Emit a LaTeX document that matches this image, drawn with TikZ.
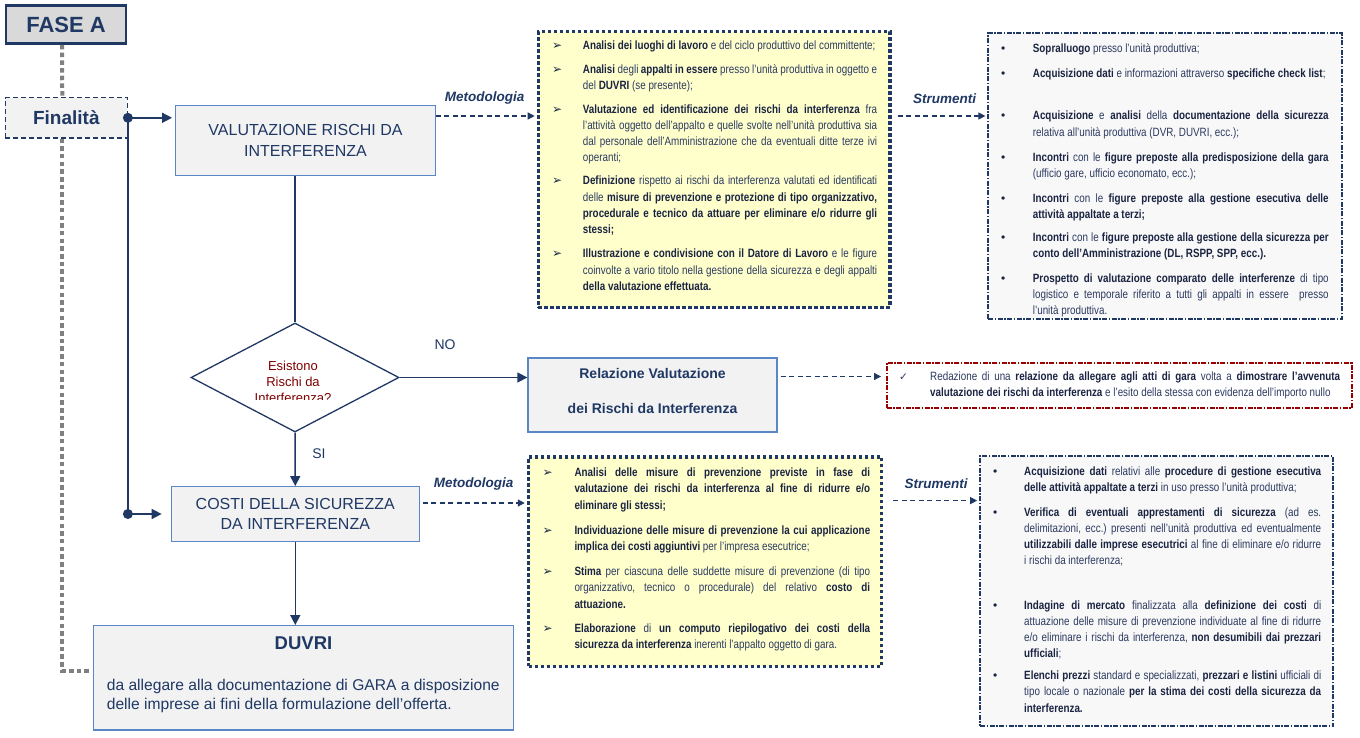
\documentclass[tikz,border=0pt]{standalone}
\usepackage{fontspec}
\setmainfont{Liberation Sans}
\newfontfamily\narrow{Liberation Sans}[FakeStretch=0.82]
\newfontfamily\dejavu{DejaVu Sans}
\usetikzlibrary{shapes.geometric,arrows.meta}
\definecolor{navy}{RGB}{31,56,100}
\definecolor{boxblue}{RGB}{91,134,197}
\definecolor{boxfill}{RGB}{242,242,242}
\definecolor{fasefill}{RGB}{217,217,217}
\definecolor{yel}{RGB}{255,255,204}
\definecolor{gfill}{RGB}{248,248,248}
\definecolor{txt}{RGB}{44,58,96}
\definecolor{txtb}{RGB}{26,36,66}
\definecolor{dred}{RGB}{128,0,0}
\definecolor{rborder}{RGB}{155,0,0}
\definecolor{dotgray}{RGB}{128,128,128}
\hyphenpenalty=10000 \exhyphenpenalty=10000 \tolerance=4000 \emergencystretch=6pt \frenchspacing
\newcommand{\B}[1]{\textbf{\color{txtb}#1}}
\newcommand{\itm}[3]{\hangindent=#2pt\hangafter=1 \makebox[#2pt][l]{#1}#3\par}
\newcommand{\arrb}{{\dejavu\fontsize{12}{12}\selectfont\color{txtb}➢}}
\newcommand{\dotb}{{\rmfamily\fontsize{12}{12}\selectfont\color{txtb}•}}
\newcommand{\chk}{{\dejavu\fontsize{10.5}{10}\selectfont\color{txt}✓}}
\tikzset{
  bbox/.style={draw=boxblue, fill=boxfill, line width=1.3pt, text=navy, align=center, inner sep=0pt},
  yelbox/.style={draw=navy, fill=yel, line width=3.5pt, dash pattern=on 3.5pt off 2.5pt, inner sep=0pt},
  gbox/.style={draw=navy, fill=gfill, line width=1.8pt, dash pattern=on 5pt off 1.5pt on 1.5pt off 1.5pt, inner sep=0pt},
  lst/.style={anchor=base west, inner sep=0pt, align=justify, text=txt, font=\narrow\fontsize{12}{16.2}\selectfont},
  conn/.style={draw=navy, line width=1.5pt, -{Triangle[length=10pt,width=10pt]}},
  plain/.style={draw=navy, line width=1.5pt},
  dconn/.style={draw=navy, line width=1.2pt, dash pattern=on 5pt off 3.5pt, -{Triangle[length=7pt,width=7pt]}},
  grayline/.style={draw=dotgray, line width=4pt, dash pattern=on 4.5pt off 3.2pt},
  tag/.style={font=\bfseries\itshape\fontsize{13.5}{16}\selectfont, text=navy, inner sep=0pt},
}
\begin{document}
\begin{tikzpicture}[x=1pt,y=-1pt]
\useasboundingbox (0,0) rectangle (1360,738);
\fill[white] (0,0) rectangle (1360,738);

% left column
\node[draw=navy, fill=fasefill, line width=2.5pt, minimum width=120, minimum height=38, inner sep=0pt,
      text=navy, font=\bfseries\fontsize{22}{24}\selectfont] (fase) at (66,24.7) {FASE A};
\node[draw=navy, fill=boxfill, line width=1.2pt, dash pattern=on 5pt off 3pt, minimum width=122, minimum height=40.3,
      inner sep=0pt, text=navy, font=\bfseries\fontsize{19}{22}\selectfont] (fin) at (66.3,117.8) {Finalità};

\node[bbox, minimum width=259.6, minimum height=69.6, font=\fontsize{16}{20.7}\selectfont] (val) at (305.5,140.5)
  {VALUTAZIONE RISCHI DA\\INTERFERENZA};
\node[draw=navy, line width=1.3pt, diamond, minimum width=208, minimum height=109, inner sep=0pt, fill=white] (dia) at (295,377.5) {};
\begin{scope}
  \clip (150,300) rectangle (450,399);
  \node[font=\fontsize{13}{16}\selectfont, text=dred, align=center, inner sep=0pt] (diatext) at (293,382) {Esistono\\Rischi da\\Interferenza?};
\end{scope}
\node[bbox, minimum width=249, minimum height=74, font=\bfseries\fontsize{14}{35}\selectfont] (rel) at (652.5,395)
  {Relazione Valutazione\\dei Rischi da Interferenza\rule[-8.4pt]{0pt}{8.4pt}};
\node[bbox, minimum width=248, minimum height=54.6, font=\fontsize{16}{20.6}\selectfont] (costi) at (295.3,514)
  {COSTI DELLA SICUREZZA\\DA INTERFERENZA};
\node[bbox, minimum width=419.6, minimum height=104.3] (duvri) at (303.5,677.8) {};
\node[text=navy, font=\bfseries\fontsize{18.5}{22}\selectfont, inner sep=0pt] (duvrit) at (303.5,643) {DUVRI};
\node[anchor=base west, text=navy, align=left, inner sep=0pt, font=\fontsize{15.6}{19.3}\selectfont] (duvrib) at (106.7,709.6)
  {da allegare alla documentazione di GARA a disposizione\\delle imprese ai fini della formulazione dell’offerta.};

\node[text=navy, font=\fontsize{14}{16}\selectfont, inner sep=0pt] (no) at (445,345) {NO};
\node[text=navy, font=\fontsize{14}{16}\selectfont, inner sep=0pt] (si) at (319,454) {SI};

% boxes right
\node[yelbox, minimum width=351.5, minimum height=275.6] (y1) at (714.2,169.5) {};
\node[gbox, minimum width=353.4, minimum height=285.7] (g1) at (1165,176.2) {};
\node[yelbox, minimum width=353, minimum height=209.7] (y2) at (705,561.6) {};
\node[gbox, minimum width=353.3, minimum height=269.7] (g2) at (1156.7,590.9) {};
\node[gbox, draw=rborder, fill=white, minimum width=464.7, minimum height=45.6] (red) at (1119.3,385.5) {};

\node[tag] (m1) at (484.5,98.3) {Metodologia};
\node[tag] (s1) at (944.5,98.3) {Strumenti};
\node[tag] (m2) at (473.5,484) {Metodologia};
\node[tag] (s2) at (936,484) {Strumenti};

% yellow 1 items
\node[lst, text width=325pt] (a1) at (552,49.7) {\itm{\arrb}{30.7}{\B{Analisi dei luoghi di lavoro} e del ciclo produttivo del committente;}};
\node[lst, text width=325pt] (a2) at (552,73.3) {\itm{\arrb}{30.7}{\B{Analisi} degli \B{appalti in essere} presso l’unità produttiva in oggetto e del \B{DUVRI} (se presente);}};
\node[lst, text width=325pt] (a3) at (552,113.3) {\itm{\arrb}{30.7}{\B{Valutazione ed identificazione dei rischi da interferenza} fra l’attività oggetto dell’appalto e quelle svolte nell’unità produttiva sia dal personale dell’Amministrazione che da eventuali ditte terze ivi operanti;}};
\node[lst, text width=325pt] (a4) at (552,185) {\itm{\arrb}{30.7}{\B{Definizione} rispetto ai rischi da interferenza valutati ed identificati delle \B{misure di prevenzione e protezione di tipo organizzativo, procedurale e tecnico da attuare per eliminare e/o ridurre gli stessi;}}};
\node[lst, text width=325pt] (a5) at (552,258) {\itm{\arrb}{30.7}{\B{Illustrazione e condivisione con il Datore di Lavoro} e le figure coinvolte a vario titolo nella gestione della sicurezza e degli appalti \B{della valutazione effettuata.}}};

% gray 1 items
\node[lst, text width=327.5pt] (b1) at (1001,52.3) {\itm{\dotb}{31.7}{\B{Sopralluogo} presso l’unità produttiva;}};
\node[lst, text width=327.5pt] (b2) at (1001,77.3) {\itm{\dotb}{31.7}{\B{Acquisizione dati} e informazioni attraverso \B{specifiche check list};}};
\node[lst, text width=327.5pt] (b3) at (1001,120) {\itm{\dotb}{31.7}{\B{Acquisizione} e \B{analisi} della \B{documentazione della sicurezza} relativa all’unità produttiva (DVR, DUVRI, ecc.);}};
\node[lst, text width=327.5pt] (b4) at (1001,161.7) {\itm{\dotb}{31.7}{\B{Incontri} con le \B{figure preposte alla predisposizione della gara} (ufficio gare, ufficio economato, ecc.);}};
\node[lst, text width=327.5pt] (b5) at (1001,202.3) {\itm{\dotb}{31.7}{\B{Incontri} con le \B{figure preposte alla gestione esecutiva delle attività appaltate a terzi;}}};
\node[lst, text width=327.5pt] (b6) at (1001,241.7) {\itm{\dotb}{31.7}{\B{Incontri} con le \B{figure preposte alla gestione della sicurezza per conto dell’Amministrazione (DL, RSPP, SPP, ecc.).}}};
\node[lst, text width=327.5pt] (b7) at (1001,282.3) {\itm{\dotb}{31.7}{\B{Prospetto di valutazione comparato delle interferenze} di tipo logistico e temporale riferito a tutti gli appalti in essere\ \ presso\linebreak l’unità produttiva.}};

% yellow 2 items
\node[lst, text width=327.5pt] (c1) at (542.5,476.7) {\itm{\arrb}{31.8}{\B{Analisi delle misure di prevenzione previste in fase di valutazione dei rischi da interferenza al fine di ridurre e/o eliminare gli stessi;}}};
\node[lst, text width=327.5pt] (c2) at (542.5,534) {\itm{\arrb}{31.8}{\B{Individuazione delle misure di prevenzione la cui applicazione implica dei costi aggiuntivi} per l’impresa esecutrice;}};
\node[lst, text width=327.5pt] (c3) at (542.5,575.7) {\itm{\arrb}{31.8}{\B{Stima} per ciascuna delle suddette misure di prevenzione (di tipo\linebreak organizzativo, tecnico o procedurale) del relativo \B{costo di attuazione.}}};
\node[lst, text width=327.5pt] (c4) at (542.5,632.3) {\itm{\arrb}{31.8}{\B{Elaborazione} di \B{un computo riepilogativo dei costi della sicurezza da interferenza} inerenti l’appalto oggetto di gara.}};

% gray 2 items
\node[lst, text width=328pt] (d1) at (993,475.7) {\itm{\dotb}{31}{\B{Acquisizione dati} relativi alle \B{procedure di gestione esecutiva delle attività appaltate a terzi} in uso presso l’unità produttiva;}};
\node[lst, text width=328pt] (d2) at (993,516.3) {\itm{\dotb}{31}{\B{Verifica di eventuali apprestamenti di sicurezza} (ad es. delimitazioni, ecc.) presenti nell’unità produttiva ed eventualmente \B{utilizzabili dalle imprese esecutrici} al fine di eliminare e/o ridurre\linebreak i rischi da interferenza;}};
\node[lst, text width=328pt] (d3) at (993,609) {\itm{\dotb}{31}{\B{Indagine di mercato} finalizzata alla \B{definizione dei costi} di attuazione delle misure di prevenzione individuate al fine di ridurre e/o eliminare i rischi da interferenza, \B{non desumibili dai prezzari ufficiali};}};
\node[lst, text width=328pt] (d4) at (993,679.7) {\itm{\dotb}{31}{\B{Elenchi prezzi} standard e specializzati, \B{prezzari e listini} ufficiali di tipo locale o nazionale \B{per la stima dei costi della sicurezza da interferenza.}}};

% red box text
\node[lst, text width=441pt, font=\narrow\fontsize{12}{16.7}\selectfont] (r1) at (899,380) {\itm{\chk}{31}{Redazione di una \B{relazione da allegare agli atti di gara} volta a \B{dimostrare l’avvenuta valutazione dei rischi da interferenza} e l’esito della stessa con evidenza dell’importo nullo}};

% gray dotted connectors
\draw[grayline] ([xshift=-4pt]fase.south) -- ([xshift=-4pt]fin.north);
\draw[grayline, shorten >=4pt] ([xshift=-4pt]fin.south) |- ([yshift=7pt]duvri.west);

% solid connectors
\draw[conn, shorten >=3pt] (fin.east) -- (fin.east -| val.west);
\draw[plain] (fin.east) -- (fin.east |- costi.west);
\draw[conn, shorten >=9pt] (fin.east |- costi.west) -- (costi.west);
\fill[navy] (fin.east) circle (5pt);
\fill[navy] (fin.east |- costi.west) circle (5pt);
\draw[plain] (val.south -| dia.north) -- (dia.north);
\draw[conn] (dia.east) -- (dia.east -| rel.west);
\draw[conn] (dia.south) -- (costi.north);
\draw[conn] (costi.south) -- (costi.south |- duvri.north);

% dashed connectors
\coordinate (m1a) at ([yshift=24.5pt]val.east);
\coordinate (s1a) at ([yshift=53.5pt]y1.east);
\coordinate (m2a) at ([yshift=11pt]costi.east);
\coordinate (s2a) at ([yshift=61pt]y2.east);
\draw[dconn, shorten >=2pt] (m1a) -- (m1a -| y1.west);
\draw[dconn, shorten <=6pt, shorten >=2pt] (s1a) -- (s1a -| g1.west);
\draw[dconn, shorten <=3pt, shorten >=2pt] (m2a) -- (m2a -| y2.west);
\draw[dconn, shorten <=10pt, shorten >=2pt] (s2a) -- (s2a -| g2.west);
\draw[dconn, shorten <=3pt, shorten >=5pt] ([yshift=18.5pt]rel.east) -- ([yshift=9pt]red.west);
\end{tikzpicture}
\end{document}
